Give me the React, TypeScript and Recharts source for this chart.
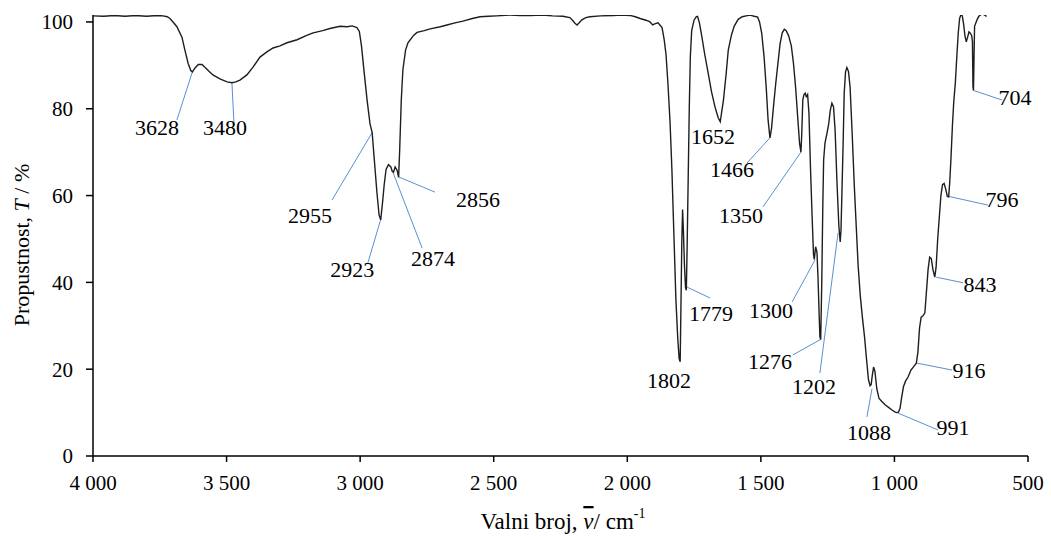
import React from 'react';
import { LineChart, Line, XAxis, YAxis, ReferenceLine, ReferenceDot, Label } from 'recharts';

// IR spectrum (wavenumber in cm-1, transmittance in %)
const wavenumbers = [
  4000, 3960, 3920, 3880, 3840, 3800, 3760, 3738, 3722, 3712, 3698, 3686, 3667, 3656, 3644, 3634, 3628,
  3618, 3606, 3592, 3580, 3565, 3551, 3525, 3498, 3480, 3465, 3450, 3424, 3401, 3375, 3349, 3326, 3300,
  3274, 3236, 3200, 3176, 3140, 3113, 3075, 3049, 3030, 3012, 3003, 2995, 2987, 2974, 2963, 2955, 2946,
  2937, 2929, 2923, 2916, 2910, 2903, 2894, 2885, 2880, 2875, 2869, 2862, 2856, 2852, 2846, 2840, 2830,
  2821, 2800, 2787, 2760, 2738, 2700, 2675, 2645, 2615, 2580, 2551, 2520, 2488, 2440, 2400, 2364, 2320,
  2280, 2241, 2215, 2205, 2196, 2188, 2180, 2170, 2155, 2140, 2100, 2053, 2020, 1990, 1970, 1952, 1930,
  1915, 1905, 1895, 1885, 1878, 1870, 1862, 1855, 1848, 1840, 1833, 1825, 1818, 1811, 1806, 1802, 1799,
  1796, 1793, 1790, 1786, 1782, 1779, 1776, 1772, 1768, 1764, 1759, 1750, 1742, 1737, 1730, 1722, 1710,
  1698, 1685, 1672, 1660, 1652, 1646, 1640, 1630, 1622, 1610, 1600, 1585, 1570, 1555, 1540, 1525, 1512,
  1505, 1497, 1488, 1480, 1473, 1466, 1460, 1452, 1444, 1436, 1428, 1420, 1412, 1405, 1396, 1386, 1378,
  1370, 1362, 1355, 1350, 1347, 1343, 1339, 1334, 1330, 1325, 1320, 1314, 1308, 1303, 1300, 1295, 1290,
  1286, 1282, 1279, 1276, 1272, 1268, 1265, 1260, 1252, 1246, 1240, 1234, 1228, 1222, 1215, 1208, 1203,
  1200, 1196, 1192, 1188, 1183, 1178, 1172, 1166, 1158, 1150, 1143, 1136, 1128, 1120, 1112, 1104, 1097,
  1091, 1087, 1083, 1078, 1073, 1066, 1058, 1048, 1035, 1022, 1009, 997, 991, 985, 979, 973, 966, 958,
  949, 938, 928, 918, 912, 906, 900, 893, 886, 880, 874, 868, 862, 856, 849, 844, 838, 832, 826, 820,
  814, 808, 802, 797, 793, 788, 783, 778, 772, 766, 761, 756, 751, 746, 741, 736, 731, 726, 721, 716,
  711, 708, 706, 704, 702, 700, 695, 690, 684, 676, 668, 661, 655,
];

const transmittance = [
  101.4, 101.3, 101.5, 101.3, 101.5, 101.3, 101.5, 101.4, 101.2, 100.8, 99.8, 98.9, 96.5, 93.5, 90.5, 88.8, 88.5,
  89.4, 90.2, 90.2, 89.5, 88.6, 87.8, 86.9, 86.2, 86.0, 86.2, 86.6, 87.8, 89.6, 91.9, 93.1, 94.0, 94.5,
  95.2, 95.9, 96.9, 97.5, 98.0, 98.5, 99.0, 98.9, 99.1, 98.7, 97.8, 94.5, 89.6, 82.0, 76.5, 74.5, 67.5,
  60.6, 55.5, 54.4, 58.5, 62.5, 66.0, 67.1, 66.6, 65.6, 65.4, 66.6, 65.9, 64.2, 70.5, 82.0, 89.0, 93.5,
  95.2, 96.9, 97.6, 98.0, 98.4, 98.9, 99.3, 99.8, 100.2, 100.8, 101.2, 101.3, 101.4, 101.6, 101.5, 101.5, 101.6,
  101.4, 101.3, 101.0, 100.4, 99.7, 99.3, 99.8, 100.5, 101.0, 101.2, 101.4, 101.5, 101.6, 101.5, 101.2, 100.8, 100.4,
  100.0, 99.3, 99.6, 99.8, 99.3, 98.7, 96.0, 92.5, 86.0, 77.0, 66.0, 50.0, 36.0, 27.0, 22.5, 21.7, 35.0,
  49.0, 56.8, 52.0, 44.0, 38.8, 38.2, 48.0, 64.0, 80.0, 92.0, 98.0, 100.4, 101.2, 101.3, 99.8, 97.0, 92.5,
  88.5, 84.0, 80.5, 78.0, 77.0, 79.5, 82.0, 88.0, 93.5, 97.0, 99.0, 100.6, 101.2, 101.4, 101.6, 101.3, 101.1,
  100.0, 97.5, 92.0, 85.0, 77.5, 73.3, 75.5, 81.0, 86.0, 90.5, 95.0, 97.5, 98.3, 98.0, 96.8, 94.5, 90.5,
  85.0, 78.0, 72.0, 70.0, 74.0, 82.0, 83.2, 83.6, 82.8, 83.3, 79.0, 66.0, 55.0, 46.5, 45.3, 48.2, 47.0,
  41.0, 33.0, 27.5, 26.8, 40.0, 58.0, 68.2, 72.1, 74.5, 76.5, 79.7, 81.3, 80.5, 75.0, 63.0, 53.0, 49.3,
  52.0, 62.0, 72.0, 83.6, 88.5, 89.5, 88.6, 85.0, 74.0, 62.0, 53.0, 44.0, 37.0, 32.0, 27.5, 22.0, 17.5,
  16.2, 16.5, 18.5, 20.5, 19.5, 15.5, 13.3, 12.6, 11.8, 11.2, 10.6, 10.1, 10.0, 10.1, 11.0, 13.5, 16.0, 17.3,
  18.2, 19.8, 20.6, 21.4, 24.0, 29.5, 32.0, 32.3, 33.0, 38.0, 43.0, 45.8, 45.5, 43.0, 41.2, 43.5, 50.0, 55.0, 60.0, 62.5,
  62.8, 61.5, 59.8, 59.7, 63.0, 69.0, 76.0, 81.5, 86.0, 92.5, 97.5, 100.8, 101.7, 101.4, 99.5, 96.8, 95.4, 96.5, 97.7, 97.4,
  96.9, 95.5, 85.0, 84.3, 92.0, 99.0, 99.8, 100.6, 101.3, 101.7, 101.8, 101.5, 101.3,
];

const xTicks = [4000, 3500, 3000, 2500, 2000, 1500, 1000, 500];
const yTicks = [0, 20, 40, 60, 80, 100];

// peak labels and the point on the curve each one marks
const peakLabels = ['3628', '3480', '2955', '2923', '2874', '2856', '1652', '1466', '1350', '1779', '1802',
  '1300', '1276', '1202', '1088', '991', '916', '843', '796', '704'];
const peakWn = [3628, 3480, 2955, 2923, 2880, 2856, 1652, 1466, 1350, 1776, 1802, 1297, 1278, 1211, 1084, 987, 916, 843, 796, 708];
const peakT = [88.5, 86, 74.5, 54.5, 65.8, 64.3, 77, 73.3, 70, 38.9, 21.7, 45.2, 26.8, 51.4, 15.5, 9.9, 21.4, 41.2, 59.8, 84.3];

// annotation layout (data units): leader end and text centre, null = no leader
const leaderEnd: ([number, number] | null)[] = [
  [3686, 77.4], [3472, 76.3], [3105, 59], [2971, 44.5], [2768, 47.9], [2720, 60.8], null, [1552, 67.5],
  [1492, 57.4], [1690, 36.4], null, [1383, 35.5], [1380, 23.3], [1279, 19.1], [1103, 9], [837, 6],
  [784, 19.8], [743, 39.9], [650, 57.8], [597, 82],
];
const textAt: [number, number][] = [
  [3760, 75.6], [3506, 75.6], [3188, 55.5], [3030, 42.9], [2727, 45.6], [2559, 59], [1679, 73.5], [1608, 65.9],
  [1574, 55.5], [1687, 32.9], [1844, 17.5], [1462, 33.6], [1466, 21.7], [1301, 15.9], [1095, 5.5], [781, 6.5],
  [721, 19.8], [680, 39.6], [597, 59], [549, 82.5],
];

const spectrum = wavenumbers.map((w, i) => ({ w, t: transmittance[i] }));

const FONT = '"Liberation Serif", "Times New Roman", serif';
const LEADER = '#5b8fd4';

const fmtX = (v: number) => (v >= 1000 ? `${Math.floor(v / 1000)} ${String(v % 1000).padStart(3, '0')}` : String(v));

const YTitle = () => (
  <text x={21} y={245} transform="rotate(-90 21 245)" textAnchor="middle" dominantBaseline="central"
    fontFamily={FONT} fontSize={22} fill="#000">
    Propustnost, <tspan fontStyle="italic">T</tspan> / %
  </text>
);

const XTitle = () => (
  <text x={563} y={521} textAnchor="middle" dominantBaseline="central" fontFamily={FONT} fontSize={23} fill="#000">
    Valni broj, <tspan fontStyle="italic" textDecoration="overline">v</tspan>/ cm<tspan dy={-8} fontSize={14}>-1</tspan>
  </text>
);

export default function App() {
  return (
    <div style={{ position: 'absolute', left: 0, top: 0, width: 1051, height: 537, background: '#fff' }}>
      <LineChart width={1051} height={537} data={spectrum} margin={{ top: 15, right: 23, bottom: 31, left: 33 }}>
        <XAxis
          dataKey="w"
          type="number"
          domain={[500, 4000]}
          reversed
          ticks={xTicks}
          tickFormatter={fmtX}
          height={50}
          tickSize={6}
          tickMargin={13}
          stroke="#000"
          strokeWidth={1.5}
          tick={{ fill: '#000', fontSize: 21, fontFamily: FONT }}
        >
          <Label content={XTitle} />
        </XAxis>
        <YAxis
          type="number"
          domain={[0, 101.6]}
          ticks={yTicks}
          width={60}
          tickSize={7}
          tickMargin={13}
          stroke="#000"
          strokeWidth={1.5}
          allowDataOverflow
          tick={{ fill: '#000', fontSize: 21, fontFamily: FONT }}
        >
          <Label content={YTitle} />
        </YAxis>
        {peakLabels.map((lab, i) => {
          const end = leaderEnd[i];
          return end ? (
            <ReferenceLine
              key={'l' + lab}
              segment={[{ x: peakWn[i], y: peakT[i] }, { x: end[0], y: end[1] }]}
              stroke={LEADER}
              strokeWidth={1}
            />
          ) : null;
        })}
        <Line
          type="linear"
          dataKey="t"
          stroke="#1e1e1e"
          strokeWidth={1.4}
          dot={false}
          isAnimationActive={false}
        />
        {peakLabels.map((lab, i) => (
          <ReferenceDot
            key={'t' + lab}
            x={textAt[i][0]}
            y={textAt[i][1]}
            r={0}
            shape={(p: any) => (
              <text x={p.cx} y={p.cy} textAnchor="middle" dominantBaseline="central" fontFamily={FONT} fontSize={22} fill="#000">
                {lab}
              </text>
            )}
          />
        ))}
      </LineChart>
    </div>
  );
}
